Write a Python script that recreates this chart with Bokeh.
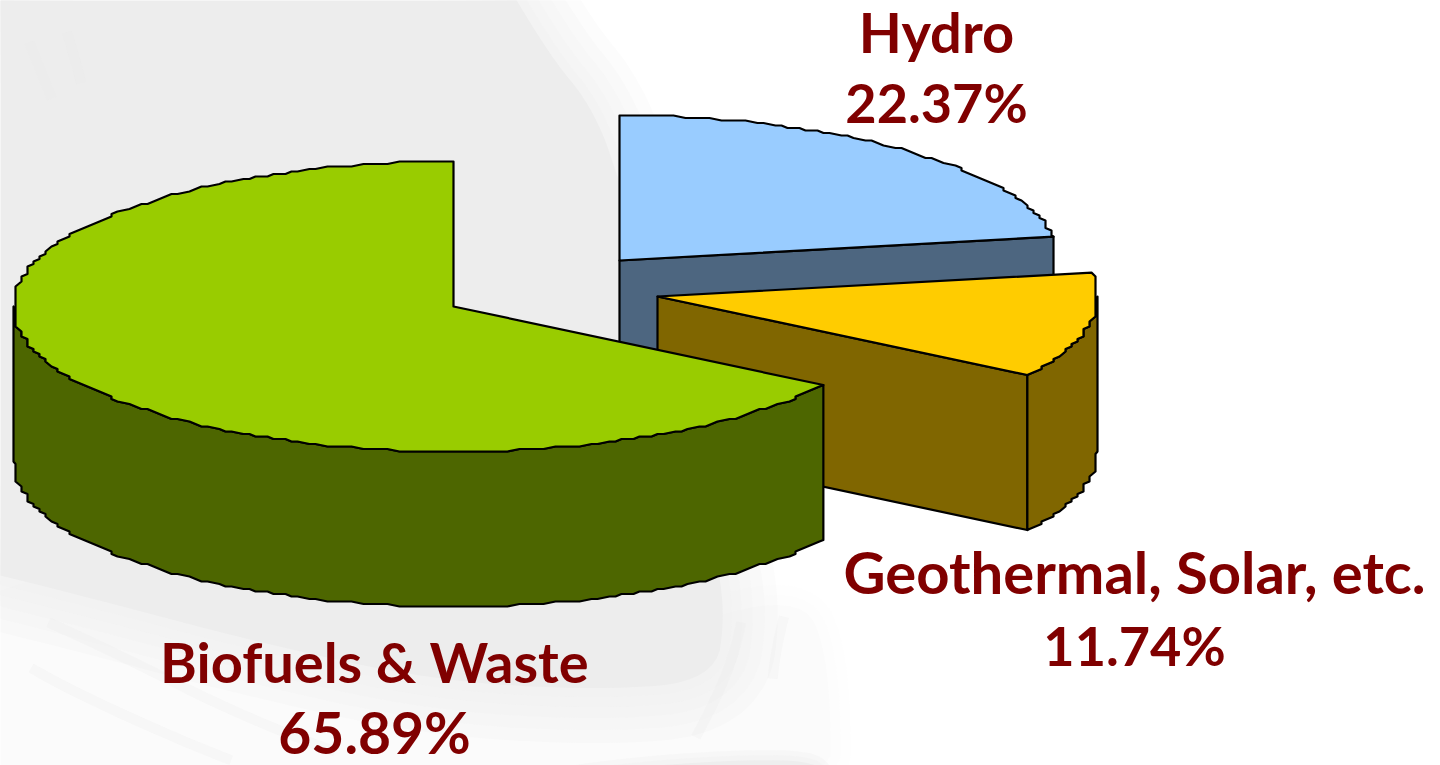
import math
from bokeh.plotting import figure
from bokeh.models import Range1d
from bokeh.core.properties import value
from bokeh.embed import file_html
from bokeh.resources import INLINE

# ---- data
categories = ["Hydro", "Geothermal, Solar, etc.", "Biofuels & Waste"]
shares = [22.37, 11.74, 65.89]
share_labels = ["22.37%", "11.74%", "65.89%"]
top_colors = ["#99CCFF", "#FFCC00", "#99CC00"]
wall_colors = ["#4D6680", "#806600", "#4D6600"]

# ---- layout (page pixels)
centers = [(619, 260), (657, 296), (453, 306)]
RX, RY, DEPTH = 440, 145, 155
label_pos = [(936, 52, 122), (1134, 593, 665), (374, 682, 753)]
name_sizes = [56, 58, 56]
share_sizes = [54, 54, 57]
BASELINE_SHIFT = 0.375
TXT = "#800000"
FONT = value("Lato")

p = figure(width=1440, height=765, output_backend="svg", toolbar_location=None,
           x_range=Range1d(0, 1440), y_range=Range1d(765, 0),
           min_border=0, outline_line_color=None, background_fill_color="#FFFFFF",
           border_fill_color="#FFFFFF")
p.xaxis.visible = False
p.yaxis.visible = False
p.xgrid.visible = False
p.ygrid.visible = False


def smooth(xs, ys, rounds=3, closed=True):
    pts = list(zip(xs, ys))
    for _ in range(rounds):
        out = []
        n = len(pts)
        for i in range(n if closed else n - 1):
            a, b = pts[i], pts[(i + 1) % n]
            out.append((0.75 * a[0] + 0.25 * b[0], 0.75 * a[1] + 0.25 * b[1]))
            out.append((0.25 * a[0] + 0.75 * b[0], 0.25 * a[1] + 0.75 * b[1]))
        pts = out
    return [q[0] for q in pts], [q[1] for q in pts]


def soft(xs, ys, color, widths=(110, 84, 60, 38, 18), alpha=0.18):
    xs, ys = smooth(xs, ys)
    for w in widths:
        p.patch(xs, ys, fill_color=None, fill_alpha=0, line_color=color, line_alpha=alpha,
                line_width=w, line_join="round")
    p.patch(xs, ys, fill_color=color, line_color=None)


# ---- faint backdrop picture
drape_x = [-60, 300, 640, 800, 830, 830, -60]
drape_y = [560, 600, 640, 590, 660, 830, 830]
soft(drape_x, drape_y, "#FBFBFB", widths=(40, 20))
head_x = [-80, 470, 545, 595, 625, 655, 685, 712, 725, 715, 600, 430, 250, 100, -80]
head_y = [-80, -80, 50, 110, 200, 300, 420, 540, 610, 680, 690, 680, 640, 600, 555]
soft(head_x, head_y, "#EDEDED")
low_x = [440, 600, 800, 830, 800, 440]
low_y = [800, 768, 756, 775, 810, 810]
soft(low_x, low_y, "#EEEEEE", widths=(20, 10), alpha=0.3)
for sx, sy in [([0, 110, 250, 400], [600, 650, 720, 775]),
               ([0, 70, 180, 270], [650, 690, 740, 775]),
               ([745, 735, 715, 680], [600, 650, 700, 765]),
               ([790, 775, 770], [590, 650, 700]),
               ([20, 40, 60], [20, 70, 120]),
               ([60, 75, 85], [10, 60, 100])]:
    sx, sy = smooth(sx, sy, closed=False)
    p.line(sx, sy, line_color="#E8E8E8", line_width=10, line_alpha=0.22)

STEP = 1.2


def rim(cx, cy, a0, a1, dy=0):
    """Clockwise angles from 12 o'clock on a fixed grid; rounding gives the stepped outline."""
    lo, hi = min(a0, a1), max(a0, a1)
    grid = [STEP * i for i in range(int(lo / STEP) + 1, int(hi / STEP) + 1) if lo < STEP * i < hi]
    angs = [lo] + grid + [hi]
    xs, ys = [], []
    top = cy - RY
    for i, a in enumerate(angs):
        t = math.radians(a)
        x = cx + RX * math.sin(t)
        y = cy - RY * math.cos(t)
        if 0 < i < len(angs) - 1:
            x = cx + round((x - cx) / 6) * 6
            y = top + round((y - top) / 2.5) * 2.5
        xs.append(x)
        ys.append(y + dy)
    if a0 > a1:
        xs.reverse()
        ys.reverse()
    return xs, ys


ang = [0]
for s in shares:
    ang.append(ang[-1] + s * 3.6)
k = dict(line_color="#000000", line_width=2.2, line_join="round")

# Hydro
cx, cy = centers[0]
x1, y1 = rim(cx, cy, ang[0], ang[1])
p.patch([cx, x1[-1], x1[-1], cx], [cy, y1[-1], y1[-1] + DEPTH, cy + DEPTH], fill_color=wall_colors[0], **k)
p.patch([cx] + x1, [cy] + y1, fill_color=top_colors[0], **k)

# Geothermal
cx, cy = centers[1]
x1, y1 = rim(cx, cy, ang[1], ang[2])
p.patch([cx, x1[-1], x1[-1], cx], [cy, y1[-1], y1[-1] + DEPTH, cy + DEPTH], fill_color=wall_colors[1], **k)
wx, wy = rim(cx, cy, 90, ang[2])
bx, by = rim(cx, cy, ang[2], 90, DEPTH)
p.patch(wx + bx, wy + by, fill_color=wall_colors[1], **k)
p.patch([cx] + x1, [cy] + y1, fill_color=top_colors[1], **k)

# Biofuels
cx, cy = centers[2]
x1, y1 = rim(cx, cy, ang[2], ang[3])
wx, wy = rim(cx, cy, ang[2], 270)
bx, by = rim(cx, cy, 270, ang[2], DEPTH)
p.patch(wx + bx, wy + by, fill_color=wall_colors[2], **k)
p.patch([cx] + x1, [cy] + y1, fill_color=top_colors[2], **k)

# Labels
for name, lab, (lx, y0, y2), s0, s1 in zip(categories, share_labels, label_pos, name_sizes, share_sizes):
    for txt, yy, sz in ((name, y0, s0), (lab, y2, s1)):
        p.text([lx], [yy - BASELINE_SHIFT * sz], text=[txt], text_color=TXT, text_font=FONT,
               text_font_style="bold", text_font_size=f"{sz}px", text_align="center",
               text_baseline="middle")

open("out.html", "w").write(file_html(p, INLINE))
